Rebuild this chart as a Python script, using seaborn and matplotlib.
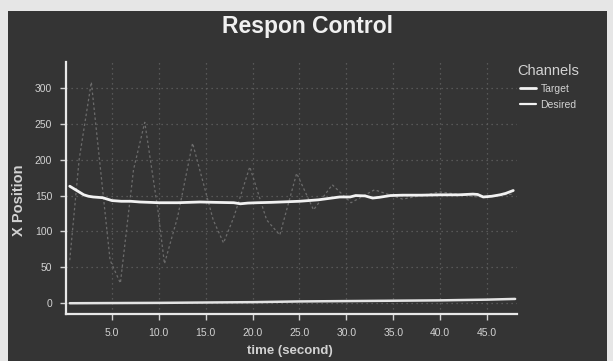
import numpy as np
import pandas as pd
import matplotlib
matplotlib.use("Agg")
import matplotlib.pyplot as plt
from matplotlib.patches import Rectangle
from matplotlib.lines import Line2D
import seaborn as sns

# ---- data ----
target_t = [0.5, 1.0, 1.5, 2.0, 2.5, 3.0, 3.5, 4.0, 4.5, 5.0, 6.0, 7.0, 8.0, 10.0, 12.0,
            14.4, 16.0, 18.0, 18.7, 19.5, 20.5, 22.0, 25.0, 27.0, 29.3, 30.4, 31.0, 32.0,
            32.8, 33.5, 34.7, 36.0, 38.0, 40.0, 42.0, 43.5, 44.0, 44.6, 45.5, 46.4, 47.0, 47.8]
target_y = [163, 159, 155, 151, 149, 148, 147.5, 147, 145, 143, 142, 142, 141, 140, 140,
            141, 140.5, 140, 138.5, 139.5, 140, 140.5, 142, 144, 148, 148, 150, 149.5,
            146.5, 147.5, 150, 150.5, 150.5, 151, 151, 152, 151.5, 148, 149, 151, 153, 157]

desired_t = [0.5, 10.0, 20.0, 25.0, 30.0, 35.0, 40.0, 45.0, 48.0]
desired_y = [0, 0.5, 1.5, 2.5, 3, 3.5, 4, 5, 6]

measured_t = [0.5, 1.5, 2.8, 4.8, 5.9, 7.3, 8.5, 9.9, 10.6, 12.0, 13.6, 15.8, 16.9,
              18.0, 19.7, 21.5, 22.9, 24.7, 26.5, 28.5, 30.5, 33.0, 36.0, 40.0, 44.0, 47.8]
measured_y = [60, 200, 308, 60, 28, 186, 252, 130, 55, 120, 223, 116, 84,
              120, 190, 116, 95, 181, 130, 165, 140, 158, 145, 155, 148, 152]

x_ticks = [5, 10, 15, 20, 25, 30, 35, 40, 45]
x_tick_labels = ["5.0", "10.0", "15.0", "20.0", "25.0", "30.0", "35.0", "40.0", "45.0"]
y_ticks = [0, 50, 100, 150, 200, 250, 300]
y_tick_labels = ["0", "50", "100", "150", "200", "250", "300"]

series_names = ["Target", "Desired"]

df_target = pd.DataFrame({"t": target_t, "y": target_y})
df_desired = pd.DataFrame({"t": desired_t, "y": desired_y})
df_measured = pd.DataFrame({"t": measured_t, "y": measured_y})

# ---- styling ----
sns.set_theme(style="dark")
plt.rcParams["font.family"] = ["Liberation Sans", "DejaVu Sans"]

panel = "#343434"
fg = "#d2d2d2"
line_col = "#f2f2f2"

fig = plt.figure(figsize=(6.13, 3.61), dpi=100)
fig.patch.set_facecolor("#e6e6e6")
fig.add_artist(Rectangle((8 / 613, 0), (607 - 8) / 613, (361 - 11) / 361,
                         transform=fig.transFigure, facecolor=panel,
                         edgecolor="none", zorder=-10))

ax = fig.add_axes([66 / 613, 1 - 314 / 361, (517 - 66) / 613, (314 - 62) / 361])
ax.set_facecolor("none")

sns.lineplot(data=df_measured, x="t", y="y", ax=ax, color="#6c6c6c",
             linewidth=0.9, linestyle=(0, (2, 2)), legend=False, zorder=2)
sns.lineplot(data=df_target, x="t", y="y", ax=ax, color=line_col,
             linewidth=2.0, legend=False, zorder=4)
sns.lineplot(data=df_desired, x="t", y="y", ax=ax, color="#e4e4e4",
             linewidth=1.8, legend=False, zorder=3)

ax.set_xlim(0.1, 48.2)
ax.set_ylim(-15, 336)
ax.set_xticks(x_ticks)
ax.set_xticklabels(x_tick_labels)
ax.set_yticks(y_ticks)
ax.set_yticklabels(y_tick_labels)

ax.grid(True, color="#636363", linestyle=(0, (1, 3)), linewidth=0.9)
ax.tick_params(axis="both", colors=fg, labelsize=7.5, length=4, width=1,
               direction="out", bottom=True, left=True, pad=6)
for side in ["top", "right"]:
    ax.spines[side].set_visible(False)
for side in ["left", "bottom"]:
    ax.spines[side].set_visible(True)
    ax.spines[side].set_color("#e8e8e8")
    ax.spines[side].set_linewidth(1.6)

ax.set_xlabel("time (second)", color=fg, fontsize=9.5, fontweight="bold")
ax.set_ylabel("X Position", color=fg, fontsize=10.5, fontweight="bold")
ax.xaxis.set_label_coords(0.5 - (517 + 66 - 2 * 290) / 2 / 451, -0.123)
ax.yaxis.set_label_coords(-0.088, 0.5 - (200 - 188) / 252)

fig.text(308 / 613, 1 - 27 / 361, "Respon Control", color="#f0f0f0",
         fontsize=16.5, fontweight="bold", ha="center", va="center")

handles = [Line2D([0], [0], color=line_col, linewidth=2.0),
           Line2D([0], [0], color=line_col, linewidth=1.6)]
leg = fig.legend(handles, series_names, title="Channels", loc="upper left",
                 bbox_to_anchor=(513 / 613, 1 - 60 / 361), frameon=False,
                 fontsize=7.5, title_fontsize=10.5, handlelength=1.6,
                 handletextpad=0.4, labelspacing=0.55, borderaxespad=0)
leg.get_title().set_color(fg)
for txt in leg.get_texts():
    txt.set_color(fg)

fig.savefig("out.png", dpi=100, facecolor=fig.get_facecolor())
